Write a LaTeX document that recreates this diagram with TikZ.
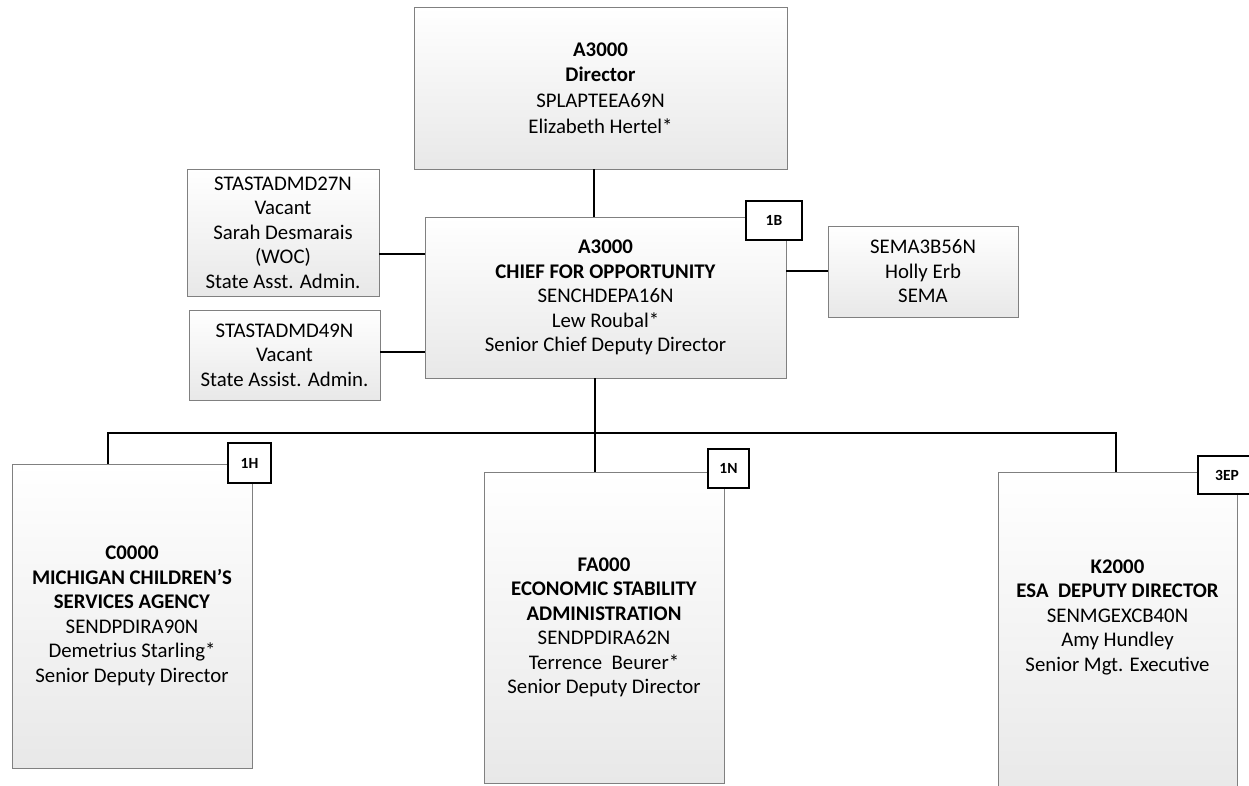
\documentclass[tikz,border=0pt]{standalone}
\usepackage{fontspec}
\setmainfont{Carlito}
\begin{document}
\begin{tikzpicture}[x=1pt,y=-1pt,
  pbox/.style={draw=black!50, line width=0.9pt, top color=white, bottom color=black!9,
    inner sep=0pt, align=center, font=\fontsize{20.8}{24.5}\selectfont},
  badge/.style={draw=black, line width=1.6pt, fill=white, inner sep=0pt,
    font=\bfseries\fontsize{15.5}{15.5}\selectfont},
  link/.style={line width=1.6pt, draw=black},
  txt/.style={align=center, inner sep=0pt, font=\fontsize{20.8}{24.5}\selectfont}]
\useasboundingbox (0,0) rectangle (1249,785);

% coordinates for connector routing
\coordinate (vtop) at (594,0);
\coordinate (vmid) at (595,0);
\coordinate (vl) at (108,0);
\coordinate (vr) at (1116,0);
\coordinate (bus) at (0,433);
\coordinate (y1) at (0,254);
\coordinate (y2) at (0,352);
\coordinate (y3) at (0,271);

% boxes
\node[pbox, minimum width=373pt, minimum height=162pt, font=\fontsize{20.8}{25.8}\selectfont] (dir) at (600.5,88)
  {\textbf{A3000}\\\textbf{Director}\\SPLAPTEEA69N\\Elizabeth Hertel*};
\node[pbox, minimum width=361pt, minimum height=161pt] (chief) at (605.5,297.5)
  {\textbf{A3000}\\\textbf{CHIEF FOR OPPORTUNITY}\\SENCHDEPA16N\\Lew Roubal*\\Senior Chief Deputy Director};
\node[pbox, minimum width=192pt, minimum height=127pt] (b1) at (283,232.5)
  {STASTADMD27N\\Vacant\\Sarah Desmarais\\(WOC)\\State Asst. Admin.};
\node[pbox, minimum width=191pt, minimum height=90pt] (b2) at (284.5,355)
  {STASTADMD49N\\Vacant\\State Assist. Admin.};
\node[pbox, minimum width=190pt, minimum height=91pt] (sema) at (923,271.5)
  {SEMA3B56N\\Holly Erb\\SEMA};
\node[pbox, minimum width=240pt, minimum height=304pt] (c1) at (132,616)
  {\textbf{C0000}\\\textbf{MICHIGAN CHILDREN’S}\\\textbf{SERVICES AGENCY}\\SENDPDIRA90N\\Demetrius Starling*\\Senior Deputy Director};
\node[pbox, minimum width=240pt, minimum height=311pt] (c2) at (604,627.5)
  {\textbf{FA000}\\\textbf{ECONOMIC STABILITY}\\\textbf{ADMINISTRATION}\\SENDPDIRA62N\\Terrence\ \ Beurer*\\Senior Deputy Director};
\node[pbox, minimum width=239pt, minimum height=328pt] (c3) at (1117.5,636) {};
\node[txt] (c3t) at (1117.5,617)
  {\textbf{K2000}\\\textbf{ESA\ \ DEPUTY DIRECTOR}\\SENMGEXCB40N\\Amy Hundley\\Senior Mgt. Executive};

% connectors
\draw[link] (dir.south -| vtop) -- (chief.north -| vtop);
\draw[link] (b1.east |- y1) -- (chief.west |- y1);
\draw[link] (b2.east |- y2) -- (chief.west |- y2);
\draw[link] (chief.east |- y3) -- (sema.west |- y3);
\draw[link] (chief.south -| vmid) -- (vmid |- bus);
\draw[link] (c1.north -| vl) -- (vl |- bus) -- (vr |- bus) -- (c3.north -| vr);
\draw[link] (vmid |- bus) -- (c2.north -| vmid);

% badges
\node[badge, minimum width=56pt, minimum height=39pt] (bB) at (774,220.5) {1B};
\node[badge, minimum width=43pt, minimum height=40pt] (bH) at (249.5,463) {1H};
\node[badge, minimum width=41pt, minimum height=39pt] (bN) at (728.5,468.5) {1N};
\node[badge, minimum width=58pt, minimum height=38pt] (bE) at (1227,475) {3EP};
\end{tikzpicture}
\end{document}
